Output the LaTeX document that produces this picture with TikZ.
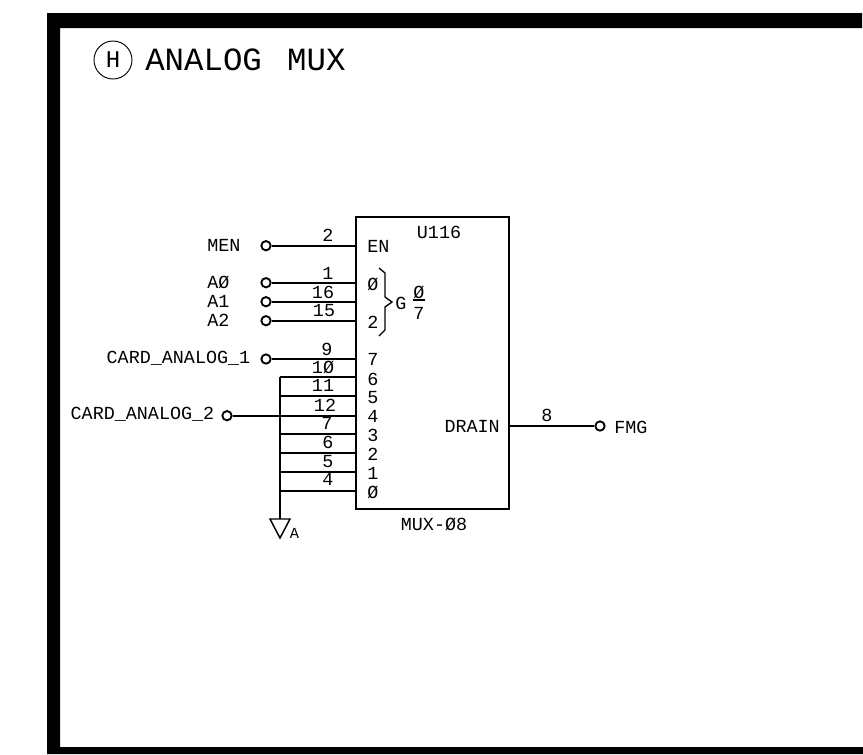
\documentclass[tikz,border=0pt]{standalone}
\usepackage{fontspec}
\setmainfont{Liberation Mono}
\begin{document}
\begin{tikzpicture}[x=0.75pt,y=-0.75pt,
  lbl/.style={inner sep=0pt,font=\fontsize{13.8pt}{14pt}\selectfont,text=black},
  pinnum/.style={lbl,anchor=base},
  wire/.style={line width=1.3pt,black},
  term/.style={circle,draw=black,line width=1.4pt,inner sep=0pt,minimum size=7pt,fill=white}]
\useasboundingbox (0,0) rectangle (863,754);
\fill[black] (47,13) -- (862,13) -- (862,28) -- (60,28) -- (60,747) -- (863,747) -- (863,754) -- (47,754) -- cycle;
\node[circle,draw,line width=0.7pt,minimum size=28.5pt,inner sep=0pt,font=\fontsize{18pt}{18pt}\selectfont] (h) at (113,60) {H};
\node[inner sep=0pt,anchor=west,font=\fontsize{24.3pt}{24pt}\selectfont] (title) at (145,60) {ANALOG\hspace{19pt}MUX};
\node[draw,line width=1.3pt,minimum width=114.75pt,minimum height=219pt,inner sep=0pt] (ic) at (432.5,363) {};
\node[lbl] (u) at (439,232) {U116};
\node[lbl] (mux) at (434,524) {MUX-Ø8};
\node[lbl,anchor=west] (en) at (367,246) {EN};
\node[lbl,anchor=west] (p0) at (367,284) {Ø};
\node[lbl,anchor=west] (p2) at (367,322) {2};
\node[lbl] (g) at (401,303) {G};
\node[lbl] (gn) at (419,292) {Ø};
\node[lbl] (gd) at (419,313) {7};
\coordinate (f1) at (413,300);
\coordinate (f2) at (425,300);
\draw[line width=1pt] (f1) -- (f2);
\coordinate (b1) at (379,268);
\coordinate (b2) at (385,273);
\coordinate (b3) at (385,297);
\coordinate (b4) at (392,302);
\coordinate (b5) at (385,307);
\coordinate (b6) at (385,330);
\coordinate (b7) at (379,336);
\draw[line width=1pt] (b1) -- (b2) -- (b3) -- (b4) -- (b5) -- (b6) -- (b7);
\foreach \n/\t/\y in {i7/7/359,i6/6/379,i5/5/398,i4/4/416,i3/3/435,i2/2/454,i1/1/473,i0/Ø/492}
  \node[lbl,anchor=west] (\n) at (367,\y) {\t};
\node[lbl,anchor=east] (drain) at (500,426) {DRAIN};
\node[lbl,anchor=west] (fmg) at (614,427) {FMG};
\node[term] (tfmg) at (600,426) {};
\draw[wire] (ic.east|-tfmg) -- (tfmg);
\node[pinnum] at (547,421) {8};
% inputs
\foreach \n/\t/\y in {men/MEN/245.7,a0/AØ/282.7,a1/A1/301.7,a2/A2/320.7}{
  \node[term] (t\n) at (266,\y) {};
  \node[lbl,anchor=west] (l\n) at (207,\y) {\t};
  \coordinate (e\n) at (ic.west|-t\n);
  \draw[wire] (t\n) -- (e\n);
}
\node[term] (tc1) at (266,359) {};
\node[lbl,anchor=east] at (250.5,358) {CARD\_ANALOG\_1};
\coordinate (ec1) at (ic.west|-tc1);
\draw[wire] (tc1) -- (ec1);
% shorted pins
\coordinate (bus) at (280,377);
\coordinate (gnd) at (280,519);
\draw[wire] (bus) -- (gnd);
\foreach \y in {377,396,434,452.7,472,491}{
  \coordinate (b) at (bus|-0,\y);
  \coordinate (c) at (ic.west|-0,\y);
  \draw[wire] (b) -- (c);
}
\node[term] (tc2) at (227,415.7) {};
\node[lbl,anchor=east] at (214.5,414) {CARD\_ANALOG\_2};
\coordinate (ec2) at (ic.west|-tc2);
\draw[wire] (tc2) -- (ec2);
\foreach \x/\y/\num in {328/241/2,328/279.5/1,323/298/16,324/316.5/15,327/355.5/9,323/373.5/1Ø,323/391.5/11,325/411/12,327/429.5/7,328/448/6,328/467/5,328/485.5/4}
  \node[pinnum] at (\x,\y) {\num};
\coordinate (g1) at (270,519);
\coordinate (g2) at (290,519);
\coordinate (g3) at (280,538);
\draw[line width=1.1pt] (g1) -- (g2) -- (g3) -- cycle;
\node[inner sep=0pt,font=\fontsize{11.5pt}{11.5pt}\selectfont] at (294.5,533) {A};
\end{tikzpicture}
\end{document}
